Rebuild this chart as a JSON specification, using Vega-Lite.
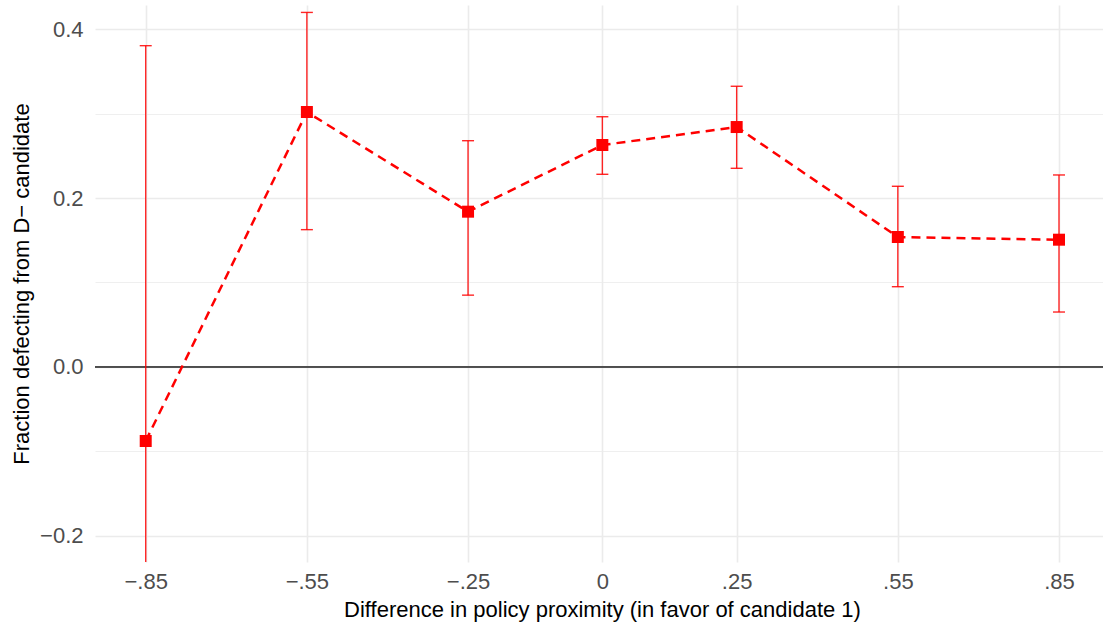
{
  "$schema": "https://vega.github.io/schema/vega-lite/v6.json",
  "width": 1008,
  "height": 557,
  "autosize": {"type": "none"},
  "padding": {"left": 95, "top": 5, "right": 0, "bottom": 62},
  "background": "white",
  "config": {
    "view": {"stroke": null},
    "font": "Liberation Sans",
    "axis": {
      "domain": false,
      "ticks": false,
      "tickSize": 0,
      "labelFont": "Liberation Sans",
      "labelFontSize": 22,
      "labelColor": "#4d4d4d",
      "titleFont": "Liberation Sans",
      "titleFontSize": 22,
      "titleFontWeight": "normal",
      "titleColor": "#000000",
      "gridColor": "#ebebeb"
    }
  },
  "data": {
    "values": [
      {"x": -0.85, "y": -0.0878, "lo": -0.26, "hi": 0.3806},
      {"x": -0.55, "y": 0.302, "lo": 0.1626, "hi": 0.42},
      {"x": -0.25, "y": 0.1839, "lo": 0.085, "hi": 0.268},
      {"x": 0.0, "y": 0.2629, "lo": 0.2282, "hi": 0.2964},
      {"x": 0.25, "y": 0.2842, "lo": 0.2353, "hi": 0.3325},
      {"x": 0.55, "y": 0.1539, "lo": 0.095, "hi": 0.214},
      {"x": 0.85, "y": 0.1507, "lo": 0.065, "hi": 0.2274}
    ]
  },
  "layer": [
    {
      "mark": {"type": "rule", "color": "#4d4d4d", "strokeWidth": 1},
      "encoding": {
        "y": {
          "datum": 0,
          "type": "quantitative",
          "scale": {"domain": [-0.2312, 0.4288], "nice": false, "zero": false},
          "axis": {
            "values": [-0.2, -0.1, 0, 0.1, 0.2, 0.3, 0.4],
            "labelExpr": "round(abs(datum.value)*10) % 2 == 1 ? '' : replace(format(datum.value, '.1f'), '-', '\u2212')",
            "labelPadding": 12,
            "labelBaseline": "middle",
            "grid": true,
            "gridWidth": {"condition": {"test": "round(abs(datum.value)*10) % 2 == 1", "value": 0.8}, "value": 1.6},
            "title": "Fraction defecting from D\u2212 candidate",
            "titleAngle": -90,
            "titleBaseline": "alphabetic",
            "titleX": -67,
            "titleY": 278.5,
            "titleAlign": "center"
          }
        }
      }
    },
    {
      "mark": {"type": "rule", "color": "#ff0000", "opacity": 0.85, "strokeWidth": 1.4, "clip": true},
      "encoding": {
        "x": {
          "field": "x",
          "type": "quantitative",
          "scale": {"domain": [-0.9444, 0.9319], "nice": false, "zero": false},
          "axis": {
            "values": [-0.85, -0.55, -0.25, 0, 0.25, 0.55, 0.85],
            "labelExpr": "datum.value == 0 ? '0' : replace(replace(replace(format(datum.value, '.2f'), '0.', '.'), '-', '\u2212'), '\u22120', '\u2212')",
            "labelBaseline": "alphabetic",
            "labelPadding": 26,
            "grid": true,
            "gridWidth": 1.6,
            "title": "Difference in policy proximity (in favor of candidate 1)",
            "titleBaseline": "alphabetic",
            "titleX": 507,
            "titleY": 54,
            "titleAlign": "center"
          }
        },
        "y": {"field": "lo", "type": "quantitative"},
        "y2": {"field": "hi"}
      }
    },
    {
      "mark": {"type": "tick", "orient": "horizontal", "color": "#ff0000", "opacity": 0.85, "thickness": 1.4, "size": 12, "clip": true},
      "encoding": {
        "x": {"field": "x", "type": "quantitative"},
        "y": {"field": "hi", "type": "quantitative"}
      }
    },
    {
      "mark": {"type": "tick", "orient": "horizontal", "color": "#ff0000", "opacity": 0.85, "thickness": 1.4, "size": 12, "clip": true},
      "encoding": {
        "x": {"field": "x", "type": "quantitative"},
        "y": {"field": "lo", "type": "quantitative"}
      }
    },
    {
      "mark": {"type": "line", "color": "#ff0000", "strokeWidth": 2.5, "strokeDash": [9, 6], "clip": true},
      "encoding": {
        "x": {"field": "x", "type": "quantitative"},
        "y": {"field": "y", "type": "quantitative"}
      }
    },
    {
      "mark": {"type": "square", "filled": true, "color": "#ff0000", "opacity": 1, "size": 144},
      "encoding": {
        "x": {"field": "x", "type": "quantitative"},
        "y": {"field": "y", "type": "quantitative"}
      }
    }
  ]
}
